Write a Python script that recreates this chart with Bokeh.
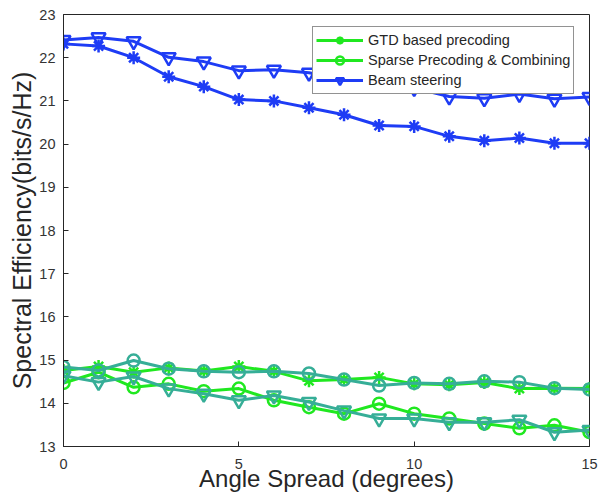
from bokeh.plotting import figure
from bokeh.models import Range1d, FixedTicker, Legend, LegendItem
from bokeh.embed import file_html
from bokeh.resources import INLINE

angle = list(range(16))

# upper group (blue)
gtd_blue = [22.32, 22.27, 22.00, 21.56, 21.33, 21.03, 21.00, 20.84, 20.68, 20.43,
            20.41, 20.18, 20.08, 20.14, 20.02, 20.02]
beam_blue = [22.41, 22.47, 22.38, 22.01, 21.91, 21.70, 21.72, 21.65, 21.50, 21.38,
             21.30, 21.10, 21.06, 21.16, 21.05, 21.09]

# lower group (green)
gtd_green = [14.76, 14.85, 14.72, 14.82, 14.75, 14.85, 14.74, 14.52, 14.55, 14.60,
             14.45, 14.43, 14.48, 14.34, 14.35, 14.34]
sparse_green = [14.47, 14.72, 14.37, 14.45, 14.28, 14.34, 14.07, 13.91, 13.76, 13.99,
                13.76, 13.65, 13.53, 13.42, 13.49, 13.33]

# lower group (teal)
circle_teal = [14.84, 14.76, 14.99, 14.80, 14.74, 14.72, 14.74, 14.69, 14.55, 14.41,
               14.47, 14.45, 14.51, 14.49, 14.35, 14.32]
tri_teal = [14.64, 14.49, 14.62, 14.34, 14.22, 14.07, 14.18, 14.03, 13.83, 13.65,
            13.65, 13.56, 13.56, 13.62, 13.33, 13.38]

x_ticks = [0, 5, 10, 15]
y_ticks = list(range(13, 24))

BLUE = "#1e3cf5"
GREEN = "#20e820"
TEAL = "#36ae97"
FONT = "Liberation Sans"

p = figure(width=600, height=497, output_backend="svg", toolbar_location=None,
           x_range=Range1d(0, 15), y_range=Range1d(13, 23),
           min_border_left=63, min_border_right=11, min_border_top=14, min_border_bottom=51)
p.background_fill_color = "white"
p.border_fill_color = "white"
p.outline_line_color = "#262626"
p.outline_line_width = 1
p.xgrid.visible = False
p.ygrid.visible = False

for ax in (p.xaxis[0], p.yaxis[0]):
    ax.axis_line_color = "#262626"
    ax.major_tick_line_color = "#262626"
    ax.major_tick_in = 5
    ax.major_tick_out = 0
    ax.minor_tick_line_color = None
    ax.major_label_text_font = FONT
    ax.major_label_text_font_size = "14.5px"
    ax.major_label_text_color = "#333333"
    ax.axis_label_text_font = FONT
    ax.axis_label_text_font_style = "normal"
    ax.axis_label_text_color = "#262626"

p.xaxis.axis_label_text_font_size = "24px"
p.yaxis.axis_label_text_font_size = "25px"
p.xaxis.ticker = FixedTicker(ticks=x_ticks)
p.yaxis.ticker = FixedTicker(ticks=y_ticks)
p.xaxis.major_label_standoff = 12
p.yaxis.major_label_standoff = 8
p.xaxis.axis_label = "Angle Spread (degrees)"
p.yaxis.axis_label = "Spectral Efficiency(bits/s/Hz)"
p.xaxis.axis_label_standoff = -7
p.yaxis.axis_label_standoff = 0

LW = 3

def series(y, color, marker, size):
    l = p.line(angle, y, line_color=color, line_width=LW)
    s = p.scatter(angle, y, marker=marker, size=size, line_color=color,
                  line_width=2.5, fill_color=None)
    return l, s

b1 = series(gtd_blue, BLUE, "asterisk", 13)
b2 = series(beam_blue, BLUE, "inverted_triangle", 14)
g1 = series(gtd_green, GREEN, "asterisk", 13)
g2 = series(sparse_green, GREEN, "circle", 12)
t1 = series(circle_teal, TEAL, "circle", 12)
t2 = series(tri_teal, TEAL, "inverted_triangle", 14)

legend = Legend(items=[
    LegendItem(label="GTD based precoding", renderers=list(g1)),
    LegendItem(label="Sparse Precoding & Combining", renderers=list(g2)),
    LegendItem(label="Beam steering", renderers=list(b2)),
], location=(249, 352))
legend.label_text_font = FONT
legend.label_text_font_size = "14.5px"
legend.label_text_color = "#262626"
legend.border_line_color = "#262626"
legend.border_line_width = 1
legend.background_fill_color = "white"
legend.background_fill_alpha = 1
legend.padding = 3
legend.spacing = 0
legend.margin = 0
legend.label_height = 20
legend.glyph_height = 20
legend.glyph_width = 47
legend.label_standoff = 5
p.add_layout(legend, "center")

open("out.html", "w").write(file_html(p, INLINE))
